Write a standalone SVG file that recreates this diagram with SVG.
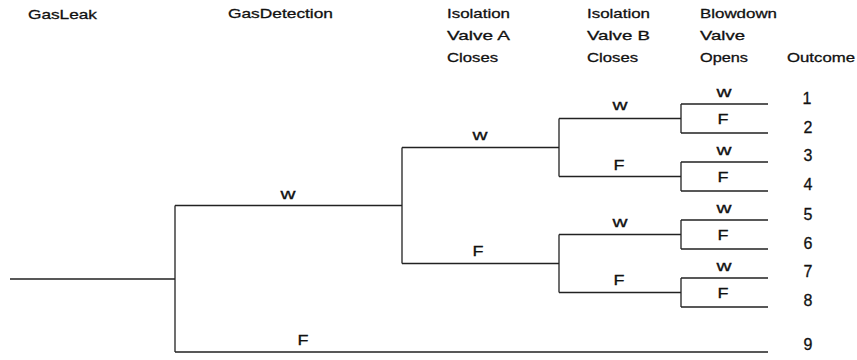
<svg xmlns="http://www.w3.org/2000/svg" width="857" height="360" viewBox="0 0 857 360">
<style>
text{font-family:"Liberation Sans",Arial,sans-serif;fill:#111;stroke:#111;stroke-width:0.3}
.h{font-size:13.5px}
.lab{font-size:15px;text-anchor:middle}
.num{font-size:16px;text-anchor:middle}
.ln{stroke:#222;stroke-width:1.3;fill:none}
</style>
<rect width="857" height="360" fill="#fff"/>
<g id="header-gasleak"><text class="h" x="28" y="19" textLength="69" lengthAdjust="spacingAndGlyphs">GasLeak</text></g>
<g id="header-gasdetection"><text class="h" x="228" y="18" textLength="105" lengthAdjust="spacingAndGlyphs">GasDetection</text></g>
<g id="header-valve-a">
<text class="h" x="447" y="18" textLength="63" lengthAdjust="spacingAndGlyphs">Isolation</text>
<text class="h" x="447" y="40" textLength="63" lengthAdjust="spacingAndGlyphs">Valve A</text>
<text class="h" x="447" y="62" textLength="51" lengthAdjust="spacingAndGlyphs">Closes</text>
</g>
<g id="header-valve-b">
<text class="h" x="587" y="18" textLength="63" lengthAdjust="spacingAndGlyphs">Isolation</text>
<text class="h" x="587" y="40" textLength="63" lengthAdjust="spacingAndGlyphs">Valve B</text>
<text class="h" x="587" y="62" textLength="51" lengthAdjust="spacingAndGlyphs">Closes</text>
</g>
<g id="header-blowdown">
<text class="h" x="700" y="18" textLength="77" lengthAdjust="spacingAndGlyphs">Blowdown</text>
<text class="h" x="700" y="40" textLength="45" lengthAdjust="spacingAndGlyphs">Valve</text>
<text class="h" x="700" y="62" textLength="48" lengthAdjust="spacingAndGlyphs">Opens</text>
</g>
<g id="header-outcome"><text class="h" x="787" y="62" textLength="68" lengthAdjust="spacingAndGlyphs">Outcome</text></g>

<g id="connectors" class="ln">
<path class="ln" d="M10 279H175M175 205.5V352M175 205.5H402M175 352H768"/>
<path class="ln" d="M402 147.5V263.5M402 147.5H559M402 263.5H559"/>
<path class="ln" d="M559 118.5V176.5M559 118.5H681M559 176.5H681"/>
<path class="ln" d="M559 234.5V292.5M559 234.5H681M559 292.5H681"/>
<path class="ln" d="M681 104V133M681 104H768M681 133H768"/>
<path class="ln" d="M681 162V191M681 162H768M681 191H768"/>
<path class="ln" d="M681 220V249M681 220H768M681 249H768"/>
<path class="ln" d="M681 278V307M681 278H768M681 307H768"/>
</g>

<g id="node-gasdetection">
<text class="lab" x="288" y="199" textLength="15" lengthAdjust="spacingAndGlyphs">w</text>
<text class="lab" x="303" y="345" textLength="11" lengthAdjust="spacingAndGlyphs">F</text>
</g>
<g id="node-valve-a">
<text class="lab" x="480" y="140" textLength="15" lengthAdjust="spacingAndGlyphs">w</text>
<text class="lab" x="478" y="256" textLength="11" lengthAdjust="spacingAndGlyphs">F</text>
</g>
<g id="node-valve-b-1">
<text class="lab" x="620" y="110" textLength="15" lengthAdjust="spacingAndGlyphs">w</text>
<text class="lab" x="619" y="170" textLength="11" lengthAdjust="spacingAndGlyphs">F</text>
</g>
<g id="node-valve-b-2">
<text class="lab" x="620" y="227" textLength="15" lengthAdjust="spacingAndGlyphs">w</text>
<text class="lab" x="619" y="285" textLength="11" lengthAdjust="spacingAndGlyphs">F</text>
</g>
<g id="node-blowdown-1">
<text class="lab" x="724" y="97" textLength="15" lengthAdjust="spacingAndGlyphs">w</text>
<text class="lab" x="723" y="124" textLength="11" lengthAdjust="spacingAndGlyphs">F</text>
</g>
<g id="node-blowdown-2">
<text class="lab" x="724" y="155" textLength="15" lengthAdjust="spacingAndGlyphs">w</text>
<text class="lab" x="723" y="182" textLength="11" lengthAdjust="spacingAndGlyphs">F</text>
</g>
<g id="node-blowdown-3">
<text class="lab" x="724" y="213" textLength="15" lengthAdjust="spacingAndGlyphs">w</text>
<text class="lab" x="723" y="240" textLength="11" lengthAdjust="spacingAndGlyphs">F</text>
</g>
<g id="node-blowdown-4">
<text class="lab" x="724" y="271" textLength="15" lengthAdjust="spacingAndGlyphs">w</text>
<text class="lab" x="723" y="298" textLength="11" lengthAdjust="spacingAndGlyphs">F</text>
</g>
<g id="outcomes">
<text class="num" x="807" y="104">1</text>
<text class="num" x="808" y="133">2</text>
<text class="num" x="808" y="161">3</text>
<text class="num" x="808" y="190">4</text>
<text class="num" x="808" y="220">5</text>
<text class="num" x="808" y="249">6</text>
<text class="num" x="808" y="277">7</text>
<text class="num" x="808" y="306">8</text>
<text class="num" x="808" y="350">9</text>
</g>
</svg>
